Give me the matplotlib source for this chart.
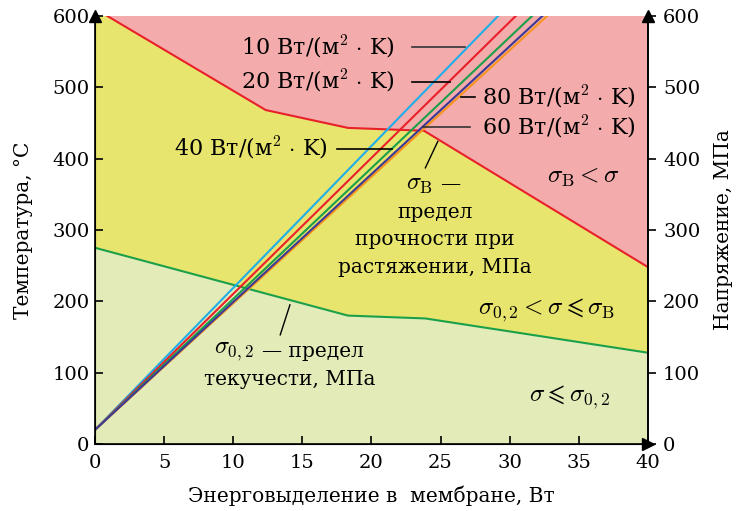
import matplotlib
matplotlib.use('Agg')
import matplotlib.pyplot as plt

plt.rcParams['font.family'] = ['DejaVu Serif']
plt.rcParams['mathtext.fontset'] = 'cm'

# boundary sigma_B (red) and sigma_0.2 (green)
sb_x = [0, 12.35, 18.3, 23.8, 40]
sb_y = [610, 468, 443, 439, 248]
s02_x = [0, 18.3, 23.9, 40]
s02_y = [275, 180, 176, 128]

# heating lines: start at 20 C, x where they reach 600 C
t_start = 20
h_labels = ['10', '20', '40', '60', '80']
h_xtop = [29.17, 30.45, 31.63, 32.72, 32.38]
h_colors = ['#1faee8', '#e8202a', '#1ba04a', '#f7941d', '#3b3896']

fig = plt.figure(figsize=(7.37, 5.11), dpi=100)
ax = fig.add_axes([0.129, 0.131, 0.75, 0.838])
ax.set_xlim(0, 40)
ax.set_ylim(0, 600)

# regions
ax.fill(sb_x + [40, 0], sb_y + [700, 700], color='#f4abab', lw=0, zorder=0)
ax.fill(sb_x + s02_x[::-1], sb_y + s02_y[::-1], color='#e8e56e', lw=0, zorder=0)
ax.fill(s02_x + [40, 0], s02_y + [0, 0], color='#e3ebb9', lw=0, zorder=0)

ax.plot(sb_x, sb_y, color='#e8202a', lw=1.5, zorder=2)
ax.plot(s02_x, s02_y, color='#1ba04a', lw=1.5, zorder=2)

for xt, c in zip(h_xtop, h_colors):
    ax.plot([0, xt], [t_start, 600], color=c, lw=1.5, zorder=3)

fs = 16
unit = r' Вт/(м$^2$ $\cdot$ K)'
# labels with leaders
ax.text(21.7, 556, h_labels[0] + unit, fontsize=fs, ha='right', va='center')
ax.plot([22.9, 26.8], [556, 556], color='#333333', lw=1.2, zorder=4)
ax.text(21.7, 508, h_labels[1] + unit, fontsize=fs, ha='right', va='center')
ax.plot([22.9, 25.7], [508, 508], color='black', lw=1.2, zorder=4)
ax.text(16.85, 414, h_labels[2] + unit, fontsize=fs, ha='right', va='center')
ax.plot([17.5, 21.5], [414, 414], color='black', lw=1.2, zorder=4)
ax.text(28.0, 486, h_labels[4] + unit, fontsize=fs, ha='left', va='center')
ax.plot([26.5, 27.5], [486, 486], color='black', lw=1.2, zorder=4)
ax.text(28.0, 444, h_labels[3] + unit, fontsize=fs, ha='left', va='center')
ax.plot([23.7, 27.1], [444, 444], color='#333333', lw=1.2, zorder=4)

fs2 = 14.5
ax.text(24.45, 363, r'$\sigma_{\mathrm{B}}$', fontsize=fs2 + 3, ha='right', va='center')
ax.text(24.95, 363, '—', fontsize=fs2, ha='left', va='center')
ax.text(24.6, 324, 'предел', fontsize=fs2, ha='center', va='center')
ax.text(24.6, 286, 'прочности при', fontsize=fs2, ha='center', va='center')
ax.text(24.6, 247, 'растяжении, МПа', fontsize=fs2, ha='center', va='center')
ax.plot([24.8, 23.9], [424, 387], color='black', lw=1.0, zorder=4)

ax.text(11.45, 129, r'$\sigma_{0,2}$', fontsize=fs2 + 3, ha='right', va='center')
ax.text(12.1, 129, '— предел', fontsize=fs2, ha='left', va='center')
ax.text(14.1, 90, 'текучести, МПа', fontsize=fs2, ha='center', va='center')
ax.plot([14.1, 13.4], [195, 153], color='black', lw=1.0, zorder=4)

fs3 = 18
ax.text(35.3, 373, r'$\sigma_{\mathrm{B}} < \sigma$', fontsize=fs3, ha='center', va='center')
ax.text(32.7, 188, r'$\sigma_{0,2} < \sigma \leqslant \sigma_{\mathrm{B}}$', fontsize=fs3,
        ha='center', va='center')
ax.text(34.3, 66, r'$\sigma \leqslant \sigma_{0,2}$', fontsize=fs3, ha='center', va='center')

# axes styling
ax.spines['top'].set_visible(False)
ax.set_xticks(range(0, 41, 5))
ax.set_yticks(range(0, 601, 100))
ax.tick_params(axis='x', direction='in', length=6, width=1.2, labelsize=14, pad=7)
ax.tick_params(axis='y', direction='in', length=6, width=1.2, labelsize=14, pad=4)
for s in ['left', 'bottom', 'right']:
    ax.spines[s].set_linewidth(1.2)
ax.set_xlabel('Энерговыделение в  мембране, Вт', fontsize=14.5, labelpad=10)
ax.set_ylabel('Температура, °C', fontsize=14.5, labelpad=14)

ax2 = ax.twinx()
ax2.set_ylim(0, 600)
ax2.set_yticks(range(0, 601, 100))
ax2.spines['top'].set_visible(False)
ax2.spines['right'].set_linewidth(1.2)
ax2.tick_params(axis='y', direction='out', length=6, width=1.2, labelsize=14, pad=5)
ax2.set_ylabel('Напряжение, МПа', fontsize=14.5, labelpad=10)

# arrows
ax.plot([1], [0], marker='>', color='black', ms=8, transform=ax.transAxes, clip_on=False, zorder=6)
ax.plot([0], [1], marker='^', color='black', ms=8, transform=ax.transAxes, clip_on=False, zorder=6)
ax.plot([1], [1], marker='^', color='black', ms=8, transform=ax.transAxes, clip_on=False, zorder=6)

fig.savefig('out.png', dpi=100)
